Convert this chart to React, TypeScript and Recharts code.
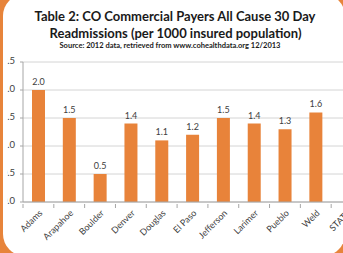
import React from "react";
import { BarChart, Bar, XAxis, YAxis, CartesianGrid, LabelList } from "recharts";

const categories = ["Adams", "Arapahoe", "Boulder", "Denver", "Douglas", "El Paso", "Jefferson", "Larimer", "Pueblo", "Weld", "STATE"];
const values: (number | null)[] = [2.0, 1.5, 0.5, 1.4, 1.1, 1.2, 1.5, 1.4, 1.3, 1.6, null];
const yTicks = [0, 0.5, 1.0, 1.5, 2.0, 2.5];
const titleLines = ["Table 2: CO Commercial Payers All Cause 30 Day", "Readmissions (per 1000 insured population)"];
const sourceLine = "Source: 2012 data, retrieved from www.cohealthdata.org 12/2013";

const data = categories.map((c, i) => ({ name: c, value: values[i] }));

const ORANGE = "#E8833A";
const FRAME = "#E7843B";
const TEXT = "#404040";
const FONT = "Lato, 'Noto Sans', sans-serif";

const CHART_W = 369;
const CHART_H = 253;
const Y_W = 30;
const PLOT_W = CHART_W - Y_W;
const STEP = PLOT_W / categories.length;

const CatTick = (props: any) => {
  const { x, y, payload } = props;
  return (
    <g>
      <line x1={x - STEP / 2} x2={x - STEP / 2} y1={y - 6} y2={y - 2} stroke="#A6A6A6" />
      <text
        x={x + 3}
        y={y + 2}
        transform={`rotate(-45, ${x + 3}, ${y + 2})`}
        textAnchor="end"
        dominantBaseline="middle"
        fontSize={9}
        fill={TEXT}
        fontFamily={FONT}
      >
        {payload.value}
      </text>
    </g>
  );
};

const ValTick = (props: any) => {
  const { x, y, payload } = props;
  return (
    <g>
      <defs>
        <clipPath id={`yclip-${payload.value}`}>
          <rect x={14.5} y={y - 10} width={20} height={20} />
        </clipPath>
      </defs>
      <text
        x={x}
        y={y}
        textAnchor="end"
        dominantBaseline="middle"
        fontSize={9.5}
        fill={TEXT}
        fontFamily={FONT}
        clipPath={`url(#yclip-${payload.value})`}
      >
        {Number(payload.value).toFixed(1)}
      </text>
    </g>
  );
};

export default function App() {
  return (
    <div style={{ position: "fixed", left: 0, top: 0, width: 343, height: 253, overflow: "hidden", background: FRAME }}>
      <div
        style={{
          position: "absolute",
          left: 3,
          top: -6,
          width: 342,
          height: 262,
          background: "#fff",
          borderRadius: 22,
        }}
      />
      <div style={{ position: "absolute", left: -7, top: 0 }}>
        <BarChart width={CHART_W} height={CHART_H} data={data} margin={{ top: 62, right: 0, bottom: 0, left: 0 }}>
          <CartesianGrid vertical={false} stroke="#D4D4D4" />
          <XAxis
            dataKey="name"
            interval={0}
            height={51}
            axisLine={{ stroke: "#A6A6A6" }}
            tickLine={false}
            tick={<CatTick />}
          />
          <YAxis
            width={Y_W}
            domain={[0, 2.5]}
            ticks={yTicks}
            axisLine={{ stroke: "#A6A6A6" }}
            tickLine={{ stroke: "#A6A6A6" }}
            tickSize={3}
            tickMargin={5}
            tick={<ValTick />}
          />
          <Bar dataKey="value" fill={ORANGE} barSize={13} isAnimationActive={false}>
            <LabelList
              dataKey="value"
              position="top"
              offset={5}
              formatter={(v: any) => (v == null ? "" : Number(v).toFixed(1))}
              style={{ fontSize: 9, fill: TEXT, fontFamily: FONT }}
            />
          </Bar>
        </BarChart>
      </div>
      <svg width={343} height={60} style={{ position: "absolute", left: 0, top: 0 }}>
        <text x={175} y={21} textAnchor="middle" fontSize={13} fontWeight="bold" fill="#1a1a1a" fontFamily={FONT}>
          {titleLines[0]}
        </text>
        <text x={175.5} y={37.5} textAnchor="middle" fontSize={13} fontWeight="bold" fill="#1a1a1a" fontFamily={FONT}>
          {titleLines[1]}
        </text>
        <text x={170} y={48} textAnchor="middle" fontSize={7.5} fontWeight="bold" fill="#1a1a1a" fontFamily={FONT}>
          {sourceLine}
        </text>
      </svg>
    </div>
  );
}
